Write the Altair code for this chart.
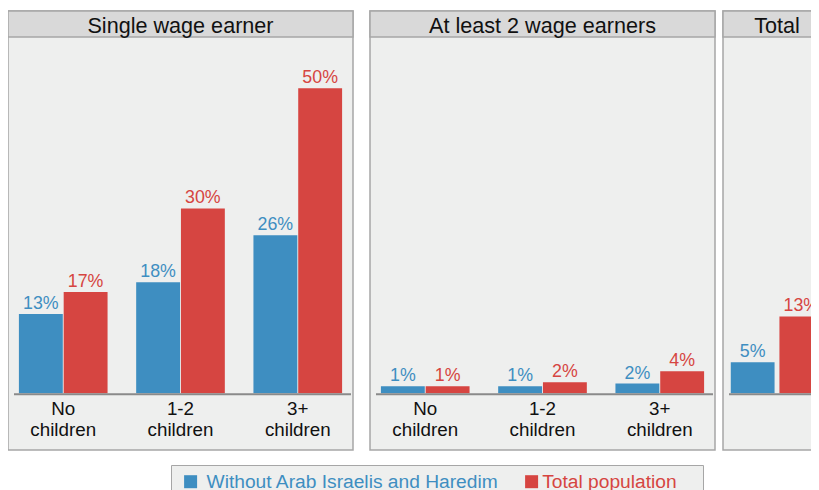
import altair as alt
import pandas as pd

# ---- data ----
categories = ["No\nchildren", "1-2\nchildren", "3+\nchildren"]
series = ["Without Arab Israelis and Haredim", "Total population"]
panel_titles = ["Single wage earner", "At least 2 wage earners", "Total"]

single_without = [13.0, 18.2, 25.9]
single_total = [16.6, 30.3, 50.0]
multi_without = [1.15, 1.15, 1.6]
multi_total = [1.15, 1.8, 3.6]
total_without = [5.1]
total_total = [12.6]

# ---- styling ----
BLUE = "#3e8ec1"
RED = "#d64541"
PANEL_BG = "#eeefee"
HEADER_BG = "#d9d9d9"
BORDER = "#a6a6a6"
FONT = "Liberation Sans"
W, H, W3 = 345, 439, 108
HEADER_H = 26
Y_DOMAIN = [-9.3, 62.67]
PX_PER_UNIT = H / (Y_DOMAIN[1] - Y_DOMAIN[0])

color_scale = alt.Scale(domain=series, range=[BLUE, RED])
legend = alt.Legend(
    orient="none", legendX=163, legendY=454, direction="horizontal", title=None,
    fillColor=PANEL_BG, strokeColor=BORDER, padding=7, symbolOffset=3,
    labelFont=FONT, labelFontSize=19.2, labelLimit=700, labelOffset=1,
    symbolType="square", symbolSize=169, symbolStrokeWidth=0, columnPadding=20,
    labelExpr=("datum.value == 'Total population' ? datum.label + '\u00a0\u2800' "
               ": '\u200b\u00a0' + datum.label"),
    labelColor={"expr": "datum.value == 'Total population' ? '%s' : '%s'" % (RED, BLUE)},
)
yenc = alt.Y("value:Q", scale=alt.Scale(domain=Y_DOMAIN, nice=False), axis=None)


def header_layers(title, width):
    hdf = alt.Chart(pd.DataFrame({"title": [title]})).transform_calculate(
        hi=str(Y_DOMAIN[1]), lo=str(Y_DOMAIN[1] - HEADER_H / PX_PER_UNIT), zero="0")
    rect = hdf.mark_rect(fill=HEADER_BG, stroke=BORDER, strokeWidth=1.5).encode(
        y=alt.Y("hi:Q", scale=alt.Scale(domain=Y_DOMAIN, nice=False), axis=None), y2="lo:Q")
    text = hdf.mark_text(font=FONT, fontSize=21.6, baseline="alphabetic", color="#111111").encode(
        x=alt.value(width / 2), y=alt.value(21.6), text="title:N")
    rule = hdf.mark_rule(color="#8a8a8a", strokeWidth=2, yOffset=1).encode(
        x=alt.value(6), x2=alt.value(width - 2),
        y=alt.Y("zero:Q", scale=alt.Scale(domain=Y_DOMAIN, nice=False), axis=None))
    return rect, text, rule


def group_panel(title, without_vals, total_vals):
    rows = []
    for c, a, b in zip(categories, without_vals, total_vals):
        rows.append({"category": c, "series": series[0], "value": a})
        rows.append({"category": c, "series": series[1], "value": b})
    df = pd.DataFrame(rows)
    base = alt.Chart(df).transform_calculate(label="format(datum.value, '.0f') + '%'")
    xenc = alt.X("category:N", sort=None,
                 scale=alt.Scale(paddingInner=0.244, paddingOuter=0.093), axis=None)
    xoff = alt.XOffset("series:N", sort=None, scale=alt.Scale(paddingInner=0.02))
    bars = base.mark_bar().encode(
        x=xenc, xOffset=xoff, y=yenc,
        color=alt.Color("series:N", scale=color_scale, legend=legend))
    vals = base.mark_text(font=FONT, fontSize=17.8, baseline="alphabetic", dy=-5).encode(
        x=xenc, xOffset=xoff, y=yenc, text="label:N",
        color=alt.Color("series:N", scale=color_scale, legend=None))
    cats = base.transform_filter(alt.datum.series == series[0]).transform_calculate(
        zero="0").mark_text(
        font=FONT, fontSize=18.8, baseline="alphabetic", lineBreak="\n", lineHeight=21,
        dy=22, color="#111111").encode(
        x=xenc, y=alt.Y("zero:Q", scale=alt.Scale(domain=Y_DOMAIN, nice=False), axis=None),
        text="category:N")
    rect, text, rule = header_layers(title, W)
    return alt.layer(rect, bars, rule, vals, cats, text).properties(width=W, height=H)


def total_panel(title):
    df = pd.DataFrame({"series": series, "value": total_without + total_total})
    base = alt.Chart(df).transform_calculate(label="format(datum.value, '.0f') + '%'")
    xenc = alt.X("series:N", sort=None,
                 scale=alt.Scale(paddingInner=0.1, paddingOuter=0.16), axis=None)
    bars = base.mark_bar().encode(
        x=xenc, y=yenc,
        color=alt.Color("series:N", scale=color_scale, legend=legend))
    vals = base.mark_text(font=FONT, fontSize=17.8, baseline="alphabetic", dy=-5).encode(
        x=xenc, y=yenc, text="label:N",
        color=alt.Color("series:N", scale=color_scale, legend=None))
    rect, text, rule = header_layers(title, W3)
    return alt.layer(rect, bars, rule, vals, text).properties(width=W3, height=H)


p1 = group_panel(panel_titles[0], single_without, single_total)
p2 = group_panel(panel_titles[1], multi_without, multi_total)
p3 = total_panel(panel_titles[2])

# fixed 803x474 canvas (page margin 8px); content beyond it is cropped like the reference
chart = (
    alt.hconcat(alt.hconcat(p1, p2, spacing=13), p3, spacing=4)
    .properties(padding={"left": 0, "top": 3, "right": 803, "bottom": 471},
                autosize=alt.AutoSizeParams(type="none"), background="white")
    .configure(font=FONT)
    .configure_view(fill=PANEL_BG, stroke=BORDER, strokeWidth=1.5)
)

chart.save("out.html", embed_options={"renderer": "svg", "actions": False})
